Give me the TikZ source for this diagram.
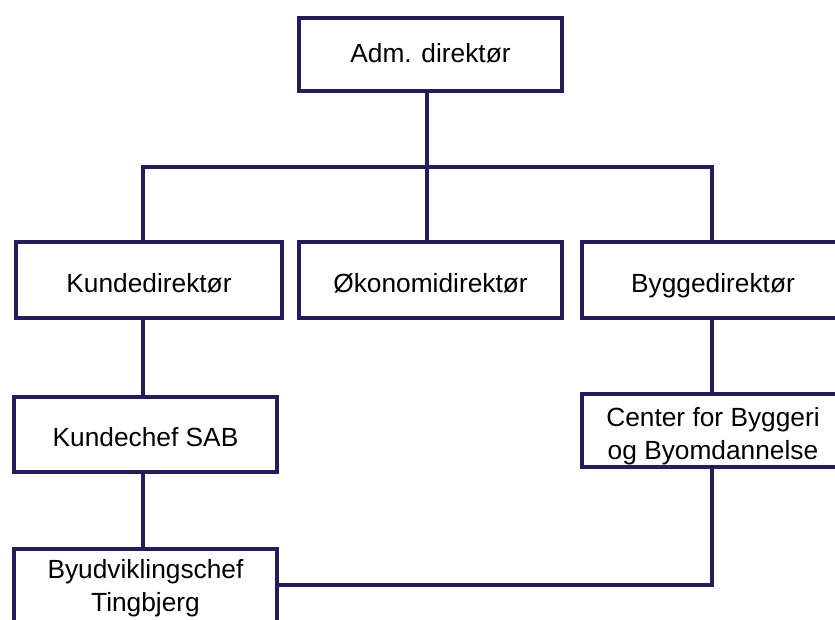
\documentclass[tikz,border=0pt]{standalone}
\usepackage{fontspec}
\setmainfont{Liberation Sans}
\definecolor{navy}{RGB}{34,30,90}
\begin{document}
\begin{tikzpicture}[x=1pt,y=-1pt,
  unit/.style={draw=navy, line width=4pt, fill=white, inner sep=0pt,
    align=center, font=\fontsize{26.3}{32.5}\selectfont},
  oneline/.style={text height=#1, text depth=0pt},
  link/.style={draw=navy, line width=4pt}]
\useasboundingbox (0,0) rectangle (835,619);
\clip (0,0) rectangle (835,619);

% org units
\node[unit, oneline=16pt, minimum width=263pt, minimum height=73pt] (adm) at (430.5,54.5) {Adm. direktør};
\node[unit, oneline=25pt, minimum width=266pt, minimum height=76pt] (kunde) at (149,280) {Kundedirektør};
\node[unit, oneline=25pt, minimum width=263pt, minimum height=76pt] (okon) at (430.5,280) {Økonomidirektør};
\node[unit, oneline=25pt, minimum width=262pt, minimum height=76pt] (bygge) at (713,280) {Byggedirektør};
\node[unit, oneline=24pt, minimum width=263pt, minimum height=75pt] (kchef) at (145.5,434.5) {Kundechef SAB};
\node[unit, minimum width=262pt, minimum height=73pt] (center) at (713,430.5)
  {\rule{0pt}{30.7pt}Center for Byggeri\\og Byomdannelse};
\node[unit, minimum width=263pt, minimum height=75pt] (byud) at (145.5,586.5)
  {\rule{0pt}{22.3pt}Byudviklingschef\\Tingbjerg};

% reporting lines
\coordinate (trunk) at (427,166.5);
\coordinate (lft) at (143,166.5);
\coordinate (rgt) at (712,166.5);
\coordinate (bot) at (712,585);
\draw[link] (adm.south -| trunk) -- (okon.north -| trunk);
\draw[link] (kunde.north -| lft) |- (rgt) -- (bygge.north -| rgt);
\draw[link] (kunde.south -| lft) -- (kchef.north -| lft);
\draw[link] (kchef.south -| lft) -- (byud.north -| lft);
\draw[link] (bygge.south -| rgt) -- (center.north -| rgt);
\draw[link] (center.south -| bot) -- (bot) -- (byud.east |- bot);
\end{tikzpicture}
\end{document}
